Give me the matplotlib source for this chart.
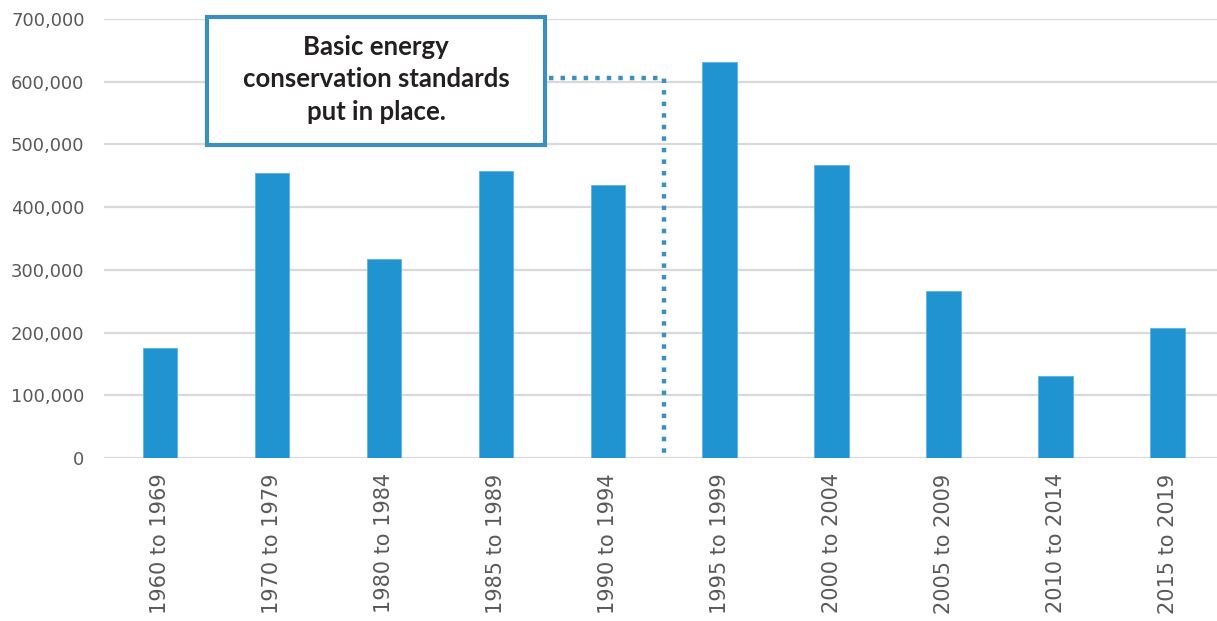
import matplotlib.pyplot as plt
from matplotlib.patches import Rectangle
from matplotlib.ticker import FuncFormatter

# values
periods = ["1960 to 1969", "1970 to 1979", "1980 to 1984", "1985 to 1989",
           "1990 to 1994", "1995 to 1999", "2000 to 2004", "2005 to 2009",
           "2010 to 2014", "2015 to 2019"]
homes_built = [175000, 454000, 317000, 458000, 435000, 632000, 467000, 266000, 131000, 207000]
y_ticks = [0, 100000, 200000, 300000, 400000, 500000, 600000, 700000]
note = "Basic energy\nconservation standards\nput in place."

BAR = "#2094d0"
FRAME = "#3a8fc0"
GRID = "#d9d9d9"
LABEL = "#595959"

fig = plt.figure(figsize=(12.17, 6.21), dpi=100)
ax = fig.add_axes([104 / 1217, 1 - 458 / 621, 1 - 104 / 1217, 439 / 621])

x = range(len(periods))
ax.bar(x, homes_built, width=0.31, color=BAR, edgecolor="#5fb2e0", linewidth=0.6, zorder=2)

ax.set_xlim(-0.5, 9.44)
ax.set_ylim(0, 700000)
ax.set_yticks(y_ticks)
ax.yaxis.set_major_formatter(FuncFormatter(lambda v, _: f"{int(v):,}"))
ax.set_xticks(list(x))
ax.set_xticklabels(periods, rotation=90)

ax.grid(axis="y", color=GRID, linewidth=1.6, zorder=0)
ax.set_axisbelow(True)
for s in ax.spines.values():
    s.set_visible(False)
ax.tick_params(axis="y", length=0, pad=14, labelsize=13, labelcolor=LABEL)
ax.tick_params(axis="x", length=0, pad=11, labelsize=15, labelcolor=LABEL)

# callout box and dotted leader line
box_l, box_r, box_b, box_t = 0.42, 3.44, 499000, 703000
ax.add_patch(Rectangle((box_l, box_b), box_r - box_l, box_t - box_b,
                       facecolor="white", edgecolor=FRAME, linewidth=3,
                       clip_on=False, zorder=5))
ax.text((box_l + box_r) / 2, (box_b + box_t) / 2 + 3000, note, ha="center", va="center",
        family="Lato", weight="bold", fontsize=18.5, color="#231f20",
        linespacing=1.42, zorder=6)
ax.plot([box_r + 0.03, 4.5, 4.5], [606000, 606000, 0], color=FRAME,
        linewidth=3.2, linestyle=(0, (1, 1.6)), dash_capstyle="butt", zorder=3)

fig.savefig("out.png", dpi=100)
